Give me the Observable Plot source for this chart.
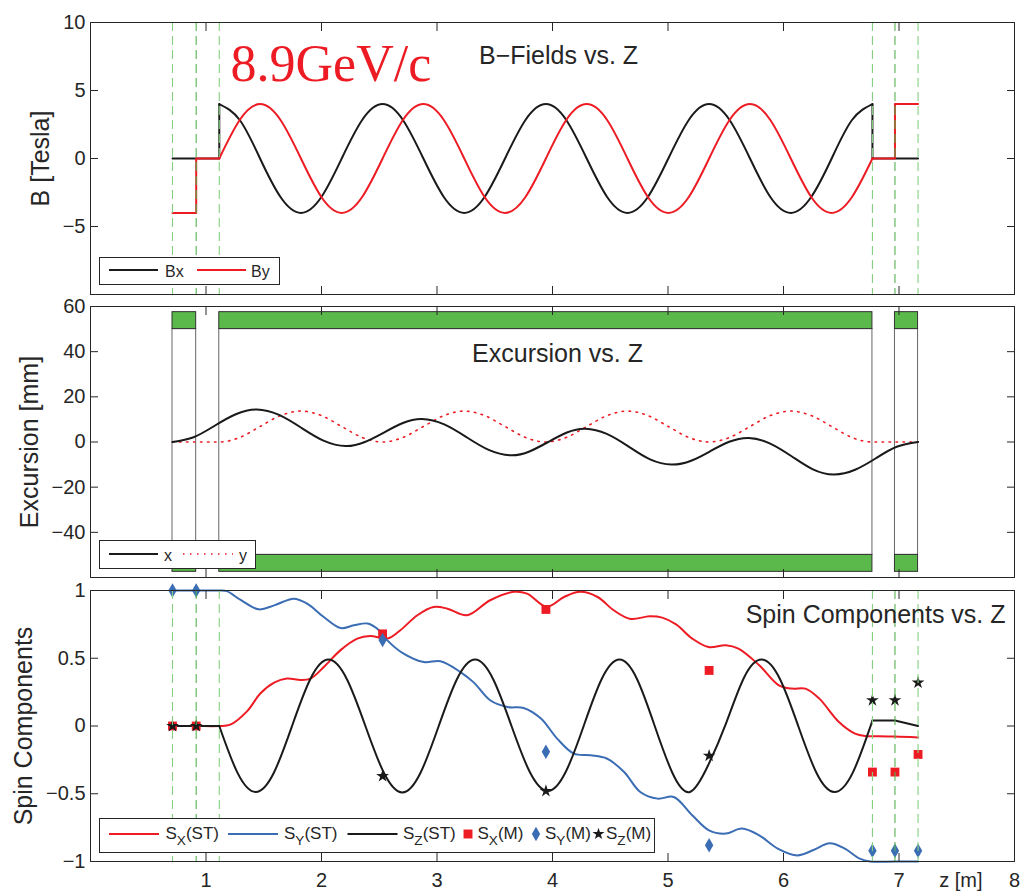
<!DOCTYPE html>
<html><head><meta charset="utf-8">
<script src="https://cdn.jsdelivr.net/npm/d3@7"></script>
<script src="https://cdn.jsdelivr.net/npm/@observablehq/plot@0.6"></script>
<style>
body{margin:0;background:#fff;}
#wrap{position:relative;width:1032px;height:893px;overflow:hidden;font-family:"Liberation Sans",Arial,sans-serif;color:#262626;background:#fff;}
.pan{position:absolute;left:0;}
.leg{position:absolute;}
</style></head>
<body><div id="wrap"></div>
<script>
// ---------- data ----------
const xTicks = [1, 2, 3, 4, 5, 6, 7, 8];
const xTickMarks = [1, 2, 3, 4, 5, 6, 7];
const edgesOuter = [0.71, 1.115, 6.77, 7.165];
const edgesInner = [0.915, 6.965];
const segStart = [0.71, 1.115, 6.965];
const segEnd = [0.915, 6.77, 7.165];
const apInner = 50, apOuter = 57.5;

// undulator sample positions (m)
const zU = [1.115, 1.292, 1.468, 1.645, 1.822, 1.999, 2.175, 2.352, 2.529, 2.705, 2.882, 3.059, 3.236, 3.412, 3.589, 3.766, 3.943, 4.119, 4.296, 4.473, 4.649, 4.826, 5.003, 5.180, 5.356, 5.533, 5.710, 5.886, 6.063, 6.240, 6.417, 6.593, 6.770];
const bxU = [4, 2.83, 0, -2.83, -4, -2.83, 0, 2.83, 4, 2.83, 0, -2.83, -4, -2.83, 0, 2.83, 4, 2.83, 0, -2.83, -4, -2.83, 0, 2.83, 4, 2.83, 0, -2.83, -4, -2.83, 0, 2.83, 4];
const byU = [0, 2.83, 4, 2.83, 0, -2.83, -4, -2.83, 0, 2.83, 4, 2.83, 0, -2.83, -4, -2.83, 0, 2.83, 4, 2.83, 0, -2.83, -4, -2.83, 0, 2.83, 4, 2.83, 0, -2.83, -4, -2.83, 0];
const bxInZ = [0.71, 1.115, 1.115], bxInV = [0, 0, 4];
const bxOutZ = [6.77, 6.77, 7.165], bxOutV = [4, 0, 0];
const byInZ = [0.71, 0.915, 0.915, 1.115], byInV = [-4, -4, 0, 0];
const byOutZ = [6.77, 6.965, 6.965, 7.165], byOutV = [0, 0, 4, 4];

// excursion (mm)
const xExcZ = [0.71, 0.8925, 1.075, 1.2575, 1.44, 1.6325, 1.825, 2.0175, 2.21, 2.375, 2.54, 2.705, 2.87, 3.0625, 3.255, 3.4475, 3.64, 3.80, 3.9625, 4.125, 4.285, 4.47, 4.66, 4.845, 5.03, 5.20, 5.365, 5.53, 5.70, 5.88, 6.07, 6.25, 6.435, 6.62, 6.80, 6.98, 7.165];
const xExcV = [0, 2.1, 7.2, 12.3, 14.4, 12.0, 6.3, 0.6, -1.8, 0.0, 4.2, 8.4, 10.2, 7.8, 2.15, -3.5, -5.9, -4.2, 0, 4.2, 5.9, 3.6, -2.05, -7.7, -10.0, -8.3, -4.1, 0.1, 1.8, -0.6, -6.3, -12.0, -14.4, -12.3, -7.2, -2.1, 0];
const yExcZ = [0.71, 0.915, 1.115, 1.292, 1.468, 1.645, 1.822, 1.999, 2.175, 2.352, 2.529, 2.705, 2.882, 3.059, 3.236, 3.412, 3.589, 3.766, 3.943, 4.119, 4.296, 4.473, 4.649, 4.826, 5.003, 5.180, 5.356, 5.533, 5.710, 5.886, 6.063, 6.240, 6.417, 6.593, 6.770, 6.965, 7.165];
const yExcV = [0, 0, 0, 2.0, 6.85, 11.7, 13.7, 11.7, 6.85, 2.0, 0, 2.0, 6.85, 11.7, 13.7, 11.7, 6.85, 2.0, 0, 2.0, 6.85, 11.7, 13.7, 11.7, 6.85, 2.0, 0, 2.0, 6.85, 11.7, 13.7, 11.7, 6.85, 2.0, 0, 0, 0];

// spin components (simulation, ST)
const sxZ = [0.71, 0.915, 1.115, 1.21, 1.357, 1.47, 1.59, 1.70, 1.82, 1.905, 2.02, 2.165, 2.31, 2.42, 2.57, 2.68, 2.83, 2.97, 3.09, 3.26, 3.46, 3.665, 3.78, 3.95, 4.10, 4.24, 4.39, 4.53, 4.675, 4.84, 4.95, 5.07, 5.21, 5.35, 5.50, 5.61, 5.79, 5.96, 6.075, 6.19, 6.31, 6.48, 6.62, 6.71, 6.77, 6.965, 7.165];
const sxV = [0, 0, 0, 0.01, 0.11, 0.24, 0.32, 0.35, 0.34, 0.35, 0.435, 0.56, 0.645, 0.665, 0.645, 0.705, 0.817, 0.878, 0.866, 0.817, 0.928, 0.99, 0.977, 0.88, 0.952, 0.99, 0.952, 0.854, 0.79, 0.81, 0.80, 0.75, 0.645, 0.583, 0.596, 0.571, 0.448, 0.30, 0.276, 0.276, 0.202, 0.03, -0.056, -0.074, -0.075, -0.078, -0.085];
const syZ = [0.71, 0.915, 1.115, 1.18, 1.30, 1.457, 1.59, 1.76, 1.876, 2.02, 2.165, 2.28, 2.40, 2.50, 2.57, 2.70, 2.886, 3.03, 3.20, 3.32, 3.46, 3.61, 3.75, 3.90, 4.04, 4.185, 4.33, 4.47, 4.62, 4.76, 4.91, 5.05, 5.21, 5.355, 5.50, 5.64, 5.79, 5.95, 6.12, 6.26, 6.40, 6.53, 6.66, 6.75, 6.965, 7.165];
const syV = [1, 1, 1, 0.995, 0.93, 0.861, 0.89, 0.94, 0.903, 0.804, 0.723, 0.743, 0.756, 0.705, 0.632, 0.54, 0.472, 0.478, 0.40, 0.32, 0.19, 0.14, 0.133, 0.055, -0.093, -0.204, -0.216, -0.24, -0.34, -0.487, -0.536, -0.524, -0.659, -0.77, -0.794, -0.757, -0.807, -0.905, -0.955, -0.915, -0.866, -0.905, -0.979, -1.0, -1.0, -1.0];
const szInZ = [0.71, 1.115], szInV = [0, 0];
const szUZ = [1.115, 1.272, 1.43, 1.5875, 1.745, 1.9025, 2.06, 2.22, 2.38, 2.54, 2.70, 2.8575, 3.015, 3.1725, 3.33, 3.4875, 3.645, 3.8025, 3.96, 4.115, 4.27, 4.425, 4.58, 4.7325, 4.885, 5.0375, 5.19, 5.3475, 5.5025, 5.66, 5.815, 5.97, 6.1275, 6.285, 6.44, 6.60, 6.77];
const szUV = [0, -0.344, -0.487, -0.345, 0, 0.345, 0.49, 0.345, 0, -0.345, -0.49, -0.345, 0, 0.345, 0.49, 0.343, 0, -0.338, -0.48, -0.338, 0, 0.345, 0.49, 0.345, 0, -0.345, -0.487, -0.29, 0.02, 0.36, 0.49, 0.345, 0, -0.345, -0.487, -0.344, 0.04];
const szOutZ = [6.77, 6.965, 7.165], szOutV = [0.04, 0.04, 0.0];

// measured (M)
const measZ = [0.71, 0.915, 2.529, 3.943, 5.356, 6.77, 6.965, 7.165];
const sxM = [0, 0, 0.68, 0.86, 0.41, -0.34, -0.34, -0.21];
const syM = [1, 1, 0.635, -0.19, -0.88, -0.92, -0.92, -0.92];
const szM = [0, 0, -0.37, -0.48, -0.22, 0.19, 0.19, 0.32];

// ---------- styling ----------
const RED = "#ed1c24", BLUE = "#3b6db4", BLACK = "#1a1a1a", AX = "#262626";
const GREEN_FILL = "#5bb84a", GREEN_DASH = "#86cf80", GREEN_DASH2 = "#55b350";
const pts = (zs, vs) => zs.map((z, i) => ({z, v: vs[i]}));
const segs = segStart.map((s, i) => ({s, e: segEnd[i]}));
const fmt = d => (d < 0 ? "\u2212" + String(-d) : String(d));

function frameAxes(yTicks, yTickMarks, showXLabels) {
  return [
    Plot.frame({stroke: AX, strokeWidth: 1}),
    Plot.axisX(xTickMarks, {anchor: "bottom", tickSize: -8, fill: "none", label: null, stroke: AX}),
    Plot.axisX(xTickMarks, {anchor: "top", tickSize: -8, fill: "none", label: null, stroke: AX}),
    Plot.axisY(yTickMarks, {anchor: "left", tickSize: -8, fill: "none", label: null, stroke: AX}),
    Plot.axisY(yTickMarks, {anchor: "right", tickSize: -8, fill: "none", label: null, stroke: AX}),
    Plot.axisY(yTicks, {anchor: "left", tickSize: 0, tickPadding: 5, label: null, fill: AX, tickFormat: fmt}),
    showXLabels ? Plot.axisX(xTicks, {anchor: "bottom", tickSize: 0, tickPadding: 11, label: null, fill: AX, tickFormat: fmt}) : null
  ];
}
const baseStyle = {fontFamily: "'Liberation Sans', Arial, sans-serif", fontSize: "20px", color: AX, background: "transparent", overflow: "visible"};
function dashRules() {
  return [
    Plot.ruleX(edgesOuter, {stroke: GREEN_DASH, strokeWidth: 1.1, strokeDasharray: "9,5"}),
    Plot.ruleX(edgesInner, {stroke: GREEN_DASH2, strokeWidth: 1.1, strokeDasharray: "9,5"})
  ];
}
function ylabel(t, dx) {
  return Plot.text([t], {text: d => d, frameAnchor: "left", rotate: -90, dx, lineAnchor: "bottom", textAnchor: "middle", fontSize: 25, fill: AX});
}

// ---------- panel 1 ----------
const p1 = Plot.plot({
  width: 1032, height: 300, marginLeft: 90, marginRight: 18, marginTop: 22, marginBottom: 6,
  x: {domain: [0, 8]}, y: {domain: [-10, 10]}, style: baseStyle,
  marks: [
    Plot.line(pts(zU, bxU), {x: "z", y: "v", stroke: BLACK, strokeWidth: 2, curve: "natural"}),
    Plot.line(pts(bxInZ, bxInV), {x: "z", y: "v", stroke: BLACK, strokeWidth: 2}),
    Plot.line(pts(bxOutZ, bxOutV), {x: "z", y: "v", stroke: BLACK, strokeWidth: 2}),
    Plot.line(pts(zU, byU), {x: "z", y: "v", stroke: RED, strokeWidth: 2, curve: "natural"}),
    Plot.line(pts(byInZ, byInV), {x: "z", y: "v", stroke: RED, strokeWidth: 2}),
    Plot.line(pts(byOutZ, byOutV), {x: "z", y: "v", stroke: RED, strokeWidth: 2}),
    ...dashRules(),
    ...frameAxes([-5, 0, 5, 10], [-5, 0, 5], false),
    ylabel("B [Tesla]", -42),
    Plot.text(["B\u2212Fields vs. Z"], {text: d => d, frameAnchor: "top", dx: 6, dy: 41, lineAnchor: "bottom", fontSize: 25, fill: AX}),
    Plot.text(["8.9GeV/c"], {text: d => d, frameAnchor: "top-left", dx: 140, dy: 58, lineAnchor: "bottom", textAnchor: "start", fontSize: 52, fontFamily: "'Liberation Serif', 'Times New Roman', serif", fill: RED})
  ]
});

// ---------- panel 2 ----------
const p2 = Plot.plot({
  width: 1032, height: 290, marginLeft: 90, marginRight: 18, marginTop: 16, marginBottom: 3,
  x: {domain: [0, 8]}, y: {domain: [-60, 60]}, style: baseStyle,
  marks: [
    Plot.rect(segs, {x1: "s", x2: "e", y1: -apInner, y2: apInner, fill: "none", stroke: "#666", strokeWidth: 1}),
    Plot.rect(segs, {x1: "s", x2: "e", y1: apInner, y2: apOuter, fill: GREEN_FILL, stroke: "#333", strokeWidth: 1}),
    Plot.rect(segs, {x1: "s", x2: "e", y1: -apOuter, y2: -apInner, fill: GREEN_FILL, stroke: "#333", strokeWidth: 1}),
    Plot.line(pts(yExcZ, yExcV), {x: "z", y: "v", stroke: RED, strokeWidth: 1.6, strokeDasharray: "1.5,5.5", curve: "monotone-x"}),
    Plot.line(pts(xExcZ, xExcV), {x: "z", y: "v", stroke: BLACK, strokeWidth: 2, curve: "natural"}),
    ...frameAxes([-40, -20, 0, 20, 40, 60], [-40, -20, 0, 20, 40], false),
    ylabel("Excursion [mm]", -53),
    Plot.text(["Excursion vs. Z"], {text: d => d, frameAnchor: "top", dx: 5, dy: 55, lineAnchor: "bottom", fontSize: 25, fill: AX})
  ]
});

// ---------- panel 3 ----------
const meas = measZ.map((z, i) => ({z, sx: sxM[i], sy: syM[i], sz: szM[i]}));
const p3 = Plot.plot({
  width: 1032, height: 318, marginLeft: 90, marginRight: 18, marginTop: 15, marginBottom: 32,
  x: {domain: [0, 8]}, y: {domain: [-1, 1]}, style: baseStyle,
  marks: [
    Plot.line(pts(sxZ, sxV), {x: "z", y: "v", stroke: RED, strokeWidth: 2, curve: "catmull-rom"}),
    Plot.line(pts(syZ, syV), {x: "z", y: "v", stroke: BLUE, strokeWidth: 2, curve: "catmull-rom"}),
    Plot.line(pts(szInZ, szInV), {x: "z", y: "v", stroke: BLACK, strokeWidth: 2}),
    Plot.line(pts(szUZ, szUV), {x: "z", y: "v", stroke: BLACK, strokeWidth: 2, curve: "natural"}),
    Plot.line(pts(szOutZ, szOutV), {x: "z", y: "v", stroke: BLACK, strokeWidth: 2}),
    Plot.dot(meas, {x: "z", y: "sx", symbol: "square", r: 5, fill: RED, stroke: "none"}),
    Plot.dot(meas, {x: "z", y: "sy", symbol: "diamond", r: 4.4, fill: BLUE, stroke: "none"}),
    Plot.dot(meas, {x: "z", y: "sz", symbol: "star", r: 4, fill: BLACK, stroke: "none"}),
    ...dashRules(),
    ...frameAxes([-1, -0.5, 0, 0.5, 1], [-0.5, 0, 0.5], true),
    ylabel("Spin Components", -59),
    Plot.text(["Spin Components vs. Z"], {text: d => d, frameAnchor: "top-right", dx: -9, dy: 32, lineAnchor: "bottom", textAnchor: "end", fontSize: 25, fill: AX}),
    Plot.text(["z [m]"], {text: d => d, frameAnchor: "bottom-right", dx: -32, dy: 25, lineAnchor: "bottom", textAnchor: "end", fontSize: 20, fill: AX})
  ]
});

const wrap = document.getElementById("wrap");
[[p1, 0], [p2, 290], [p3, 575]].forEach(([p, top]) => {
  const d = document.createElement("div");
  d.className = "pan"; d.style.top = top + "px";
  d.appendChild(p); wrap.appendChild(d);
});

// ---------- legends ----------
function legend(left, top, w, h, items) {
  const svg = d3.create("svg").attr("class", "leg").attr("width", w).attr("height", h)
    .style("left", left + "px").style("top", top + "px").style("position", "absolute");
  svg.append("rect").attr("x", 0.5).attr("y", 0.5).attr("width", w - 1).attr("height", h - 1)
    .attr("fill", "#fff").attr("stroke", AX).attr("stroke-width", 1);
  items.forEach(it => {
    if (it.type === "line") {
      svg.append("line").attr("x1", it.x1).attr("x2", it.x2).attr("y1", it.y).attr("y2", it.y)
        .attr("stroke", it.color).attr("stroke-width", it.w || 2).attr("stroke-dasharray", it.dash || null);
    } else if (it.type === "sym") {
      svg.append("path").attr("transform", `translate(${it.x},${it.y})`)
        .attr("d", d3.symbol(it.sym, it.size)()).attr("fill", it.color);
    } else {
      const t = svg.append("text").attr("x", it.x).attr("y", it.y)
        .attr("font-family", "'Liberation Sans', Arial, sans-serif").attr("font-size", it.fs).attr("fill", AX);
      if (it.sub) {
        t.append("tspan").text(it.main);
        t.append("tspan").attr("font-size", it.fs * 0.8).attr("dy", 6).text(it.sub);
        t.append("tspan").attr("dy", -6).text(it.rest);
      } else t.text(it.main);
    }
  });
  wrap.appendChild(svg.node());
}
legend(99, 257, 181, 28, [
  {type: "line", x1: 10, x2: 59, y: 13, color: BLACK},
  {type: "text", x: 66, y: 19.5, fs: 16, main: "Bx"},
  {type: "line", x1: 98, x2: 147, y: 13, color: RED},
  {type: "text", x: 152, y: 19.5, fs: 16, main: "By"}
]);
legend(99, 540, 157, 29, [
  {type: "line", x1: 10, x2: 59, y: 14, color: BLACK},
  {type: "text", x: 65, y: 20.5, fs: 16, main: "x"},
  {type: "line", x1: 84, x2: 134, y: 14, color: RED, w: 1.6, dash: "1.5,5.5"},
  {type: "text", x: 140, y: 20.5, fs: 16, main: "y"}
]);
legend(99, 818, 556, 35, [
  {type: "line", x1: 10, x2: 60, y: 16, color: RED},
  {type: "text", x: 66.5, y: 20.5, fs: 17, main: "S", sub: "X", rest: "(ST)"},
  {type: "line", x1: 129, x2: 179, y: 16, color: BLUE},
  {type: "text", x: 185, y: 20.5, fs: 17, main: "S", sub: "Y", rest: "(ST)"},
  {type: "line", x1: 248.5, x2: 298.5, y: 16, color: BLACK},
  {type: "text", x: 304, y: 20.5, fs: 17, main: "S", sub: "Z", rest: "(ST)"},
  {type: "sym", x: 369, y: 16, sym: d3.symbolSquare, size: 80, color: RED},
  {type: "text", x: 378.5, y: 20.5, fs: 17, main: "S", sub: "X", rest: "(M)"},
  {type: "sym", x: 437, y: 16, sym: d3.symbolDiamond, size: 60, color: BLUE},
  {type: "text", x: 446, y: 20.5, fs: 17, main: "S", sub: "Y", rest: "(M)"},
  {type: "sym", x: 499.5, y: 16, sym: d3.symbolStar, size: 45, color: BLACK},
  {type: "text", x: 507, y: 20.5, fs: 17, main: "S", sub: "Z", rest: "(M)"}
]);
</script></body></html>
